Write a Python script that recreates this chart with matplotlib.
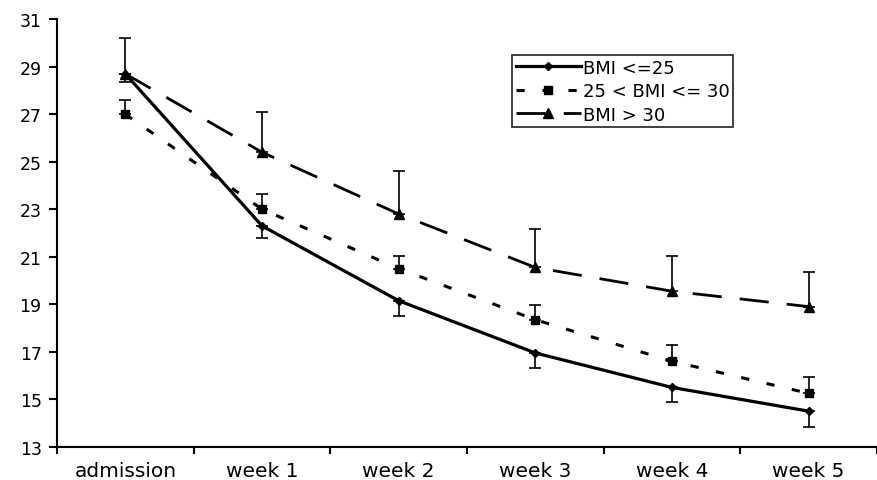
import numpy as np
import matplotlib.pyplot as plt

# Categories and series values
weeks = ["admission", "week 1", "week 2", "week 3", "week 4", "week 5"]
bmi_low = [28.7, 22.3, 19.15, 16.95, 15.5, 14.5]
bmi_low_err = [0.35, 0.5, 0.65, 0.65, 0.6, 0.65]
bmi_mid = [27.0, 23.0, 20.5, 18.35, 16.6, 15.25]
bmi_mid_err = [0.6, 0.65, 0.55, 0.6, 0.7, 0.7]
bmi_high = [28.7, 25.4, 22.8, 20.55, 19.55, 18.9]
bmi_high_err = [1.5, 1.7, 1.8, 1.6, 1.5, 1.45]

labels = ["BMI <=25", "25 < BMI <= 30", "BMI > 30"]

plt.rcParams["font.family"] = ["DejaVu Sans"]

fig = plt.figure(figsize=(8.77, 4.81), dpi=100)
ax = fig.add_axes([0.065, 0.069, 0.935, 0.889])

x = np.arange(len(weeks))
zero = np.zeros(len(weeks))

# one-sided error bars
err_style = dict(fmt="none", ecolor="black", elinewidth=1.2, capsize=4.5,
                 capthick=1.2)
ax.errorbar(x, bmi_low, yerr=[bmi_low_err, zero], **err_style)
ax.errorbar(x, bmi_mid, yerr=[zero, bmi_mid_err], **err_style)
ax.errorbar(x, bmi_high, yerr=[zero, bmi_high_err], **err_style)

ax.plot(x, bmi_low, color="black", lw=2.3, marker="D", ms=4,
        label=labels[0])
ax.plot(x, bmi_mid, color="black", lw=2.2, ls=(0, (2.7, 5.8)), marker="s",
        ms=6, label=labels[1])
ax.plot(x, bmi_high, color="black", lw=2.0, ls=(0, (10.5, 6.5)), marker="^",
        ms=7, label=labels[2])

ax.set_ylim(13, 31)
ax.set_yticks(np.arange(13, 32, 2))
ax.set_xlim(-0.5, 5.43)
ax.set_xticks(x)
ax.set_xticklabels(weeks)
ax.set_xticks(np.arange(-0.5, 6, 1), minor=True)

ax.tick_params(axis="x", which="major", length=0, labelsize=14.5, pad=10)
ax.tick_params(axis="x", which="minor", length=5, width=1.5)
ax.tick_params(axis="y", length=6, width=1.5, labelsize=12.5, pad=5)

for side in ["top", "right"]:
    ax.spines[side].set_visible(False)
for side in ["left", "bottom"]:
    ax.spines[side].set_linewidth(1.5)

leg = ax.legend(loc="upper left", bbox_to_anchor=(0.555, 0.916), fontsize=13,
                frameon=True, fancybox=False, edgecolor="black",
                handlelength=3.6, borderpad=0.2, labelspacing=0.3,
                handletextpad=0.1, borderaxespad=0)
leg.get_frame().set_linewidth(1.3)

plt.savefig("out.png", dpi=100)
